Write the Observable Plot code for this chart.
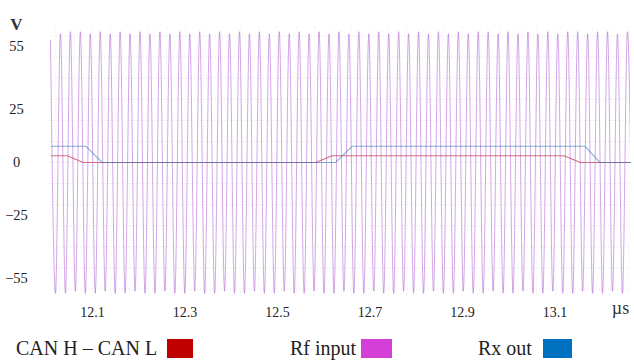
<!DOCTYPE html>
<html>
<head>
<meta charset="utf-8">
<script src="https://cdn.jsdelivr.net/npm/d3@7"></script>
<script src="https://cdn.jsdelivr.net/npm/@observablehq/plot@0.6"></script>
<style>
  html, body { margin: 0; padding: 0; background: #fff; }
  #wrap { position: relative; width: 634px; height: 360px; overflow: hidden; font-family: "Liberation Serif", "Times New Roman", serif; }
  .lg-text { position: absolute; top: 337px; font-size: 20px; line-height: 22px; color: #222; white-space: nowrap; }
  .lg-sw { position: absolute; top: 339px; height: 19px; }
</style>
</head>
<body>
<div id="wrap"></div>
<script>
// ---- data ----
const xTicks = [12.1, 12.3, 12.5, 12.7, 12.9, 13.1];
const yTicks = [-55, -25, 0, 25, 55];

// CAN H – CAN L (red)
const canTime = [12.011, 12.045, 12.080, 12.582, 12.618, 13.119, 13.155, 13.263];
const canVolt = [3.2, 3.2, 0, 0, 3.2, 3.2, 0, 0];

// Rx out (blue)
const rxTime = [12.011, 12.086, 12.121, 12.625, 12.661, 13.165, 13.197, 13.263];
const rxVolt = [7.7, 7.7, 0, 0, 7.7, 7.7, 0, 0];

// Rf input (magenta): carrier extremes, one value per cycle
const rfStartTime = 12.009;
const rfStartVolt = 58;
const rfFirstTop = 12.0305;   // time of first positive peak (µs)
const rfPeriod = 0.021506;    // carrier period (µs)
const rfTop = [61,62,62,61,62,61,62,61,62,61,62,61,62,61,62,61,62,61,62,61,
               62,61,62,61,62,61,62,61,62,61,62,61,62,61,62,61,62,61,62,61,
               62,61,62,62,61,62,61,62,61,62,61,62,62,61,62,62,61,62];
const rfBottom = [-62,-62,-61,-62,-62,-61,-62,-62,-61,-62,-62,-61,-62,-62,-61,-62,-62,-61,-62,-62,
                  -61,-62,-62,-61,-62,-62,-61,-62,-62,-61,-62,-62,-61,-62,-62,-61,-62,-62,-61,-62,
                  -62,-61,-62,-62,-61,-62,-62,-61,-62,-62,-61,-62,-62,-61,-62,-62,-61,-62,-62];

const legendItems = ["CAN H – CAN L", "Rf input", "Rx out"];
const legendColors = ["#c00000", "#d43fd8", "#0070c0"];

// ---- build tables ----
const can = canTime.map((t, i) => ({t, v: canVolt[i]}));
const rx = rxTime.map((t, i) => ({t, v: rxVolt[i]}));
const rf = [{t: rfStartTime, v: rfStartVolt}];
const nExt = Math.max(rfTop.length, rfBottom.length);
for (let k = 0; k < nExt; k++) {
  if (k < rfBottom.length) rf.push({t: rfFirstTop + (k - 0.5) * rfPeriod, v: rfBottom[k]});
  if (k < rfTop.length) rf.push({t: rfFirstTop + k * rfPeriod, v: rfTop[k]});
}

const chart = Plot.plot({
  width: 634,
  height: 325,
  marginLeft: 50,
  marginRight: 4,
  marginTop: 27,
  marginBottom: 29,
  style: {fontFamily: "'Liberation Serif', 'Times New Roman', serif", fontSize: "14px", color: "#222", background: "#fff"},
  x: {domain: [12.009, 13.263]},
  y: {domain: [-63.5, 64]},
  marks: [
    Plot.gridY(d3.range(-60, 65, 10), {stroke: "#e6e6e6", strokeOpacity: 1, strokeDasharray: "1,2"}),
    Plot.gridX(d3.range(12.02, 13.27, 0.04), {stroke: "#efefef", strokeOpacity: 1, strokeDasharray: "1,2"}),
    Plot.line(rf, {x: "t", y: "v", stroke: "#a64fd0", strokeOpacity: 0.5, strokeWidth: 1, curve: "monotone-x", clip: true}),
    Plot.line(can, {x: "t", y: "v", stroke: "#c8283c", strokeOpacity: 0.65, strokeWidth: 1.1}),
    Plot.line(rx, {x: "t", y: "v", stroke: "#2f7ab8", strokeOpacity: 0.6, strokeWidth: 1.1}),
    Plot.axisY({ticks: yTicks, tickSize: 0, tickPadding: 34, textAnchor: "middle", fontSize: 14.5, label: null}),
    Plot.axisX({ticks: xTicks, tickSize: 0, tickPadding: 11, fontSize: 14, tickFormat: d => d.toFixed(1), label: null}),
    Plot.text(["V"], {frameAnchor: "top-left", dx: -34, dy: -10, textAnchor: "middle", fontSize: 17, fontWeight: "bold", fill: "#333"}),
    Plot.text(["µs"], {frameAnchor: "bottom-right", dx: -10, dy: 17, textAnchor: "middle", fontSize: 18, fill: "#333"})
  ]
});

const wrap = document.getElementById("wrap");
wrap.appendChild(chart);

const textLeft = [16, 290, 478];
const swLeft = [167, 361, 543];
const swWidth = [26, 31, 29];
legendItems.forEach((name, i) => {
  const s = document.createElement("span");
  s.className = "lg-text";
  s.style.left = textLeft[i] + "px";
  s.textContent = name;
  wrap.appendChild(s);
  const b = document.createElement("span");
  b.className = "lg-sw";
  b.style.left = swLeft[i] + "px";
  b.style.width = swWidth[i] + "px";
  b.style.background = legendColors[i];
  wrap.appendChild(b);
});
</script>
</body>
</html>
